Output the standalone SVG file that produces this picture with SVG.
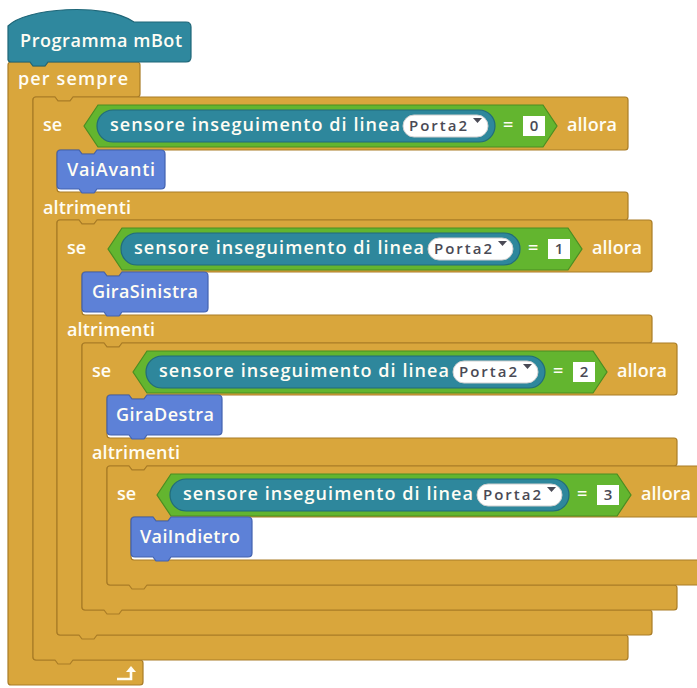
<svg xmlns="http://www.w3.org/2000/svg" width="697" height="688" viewBox="0 0 697 688">
<defs>
<style>
.ctl{fill:#D9A63C;stroke:#A97C26;stroke-width:1.2;stroke-linejoin:round}
.hat{fill:#2F889E;stroke:#1F6678;stroke-width:1.2}
.blu{fill:#5D81D7;stroke:#4262B0;stroke-width:1.2;stroke-linejoin:round}
.hex{fill:#63B52F;stroke:#4A8D22;stroke-width:1.2}
.sen{fill:#2E879C;stroke:#216B7C;stroke-width:1.2}
.pill{fill:#FFFFFF;stroke:#CFCFCF;stroke-width:1}
.box{fill:#FFFFFF}
.t{font-family:"Open Sans","DejaVu Sans",sans-serif;font-weight:600;font-size:18px;fill:#FFFDF4}
.d{font-family:"Open Sans","DejaVu Sans",sans-serif;font-weight:600;font-size:15px;fill:#4A4A55}
.tri{fill:#4A4A55}
</style>
</defs>
<rect width="697" height="688" fill="#FFFFFF"/>

<g id="forever">
<path class="ctl" d="M8,65 Q8,62 11,62 H30 L33,66 H45 L48,62 H137 Q140,62 140,65 V94 Q140,97 137,97 H73 L70,101 H58 L55,97 H36 Q33,97 33,100 V657 Q33,660 36,660 H140 Q143,660 143,663 V682 Q143,685 140,685 H11 Q8,685 8,682 Z"/>
<text class="t" x="18" y="85" textLength="110" lengthAdjust="spacing">per sempre</text>
<path d="M117,679 H131 V671" fill="none" stroke="#FFFDF4" stroke-width="2.6"/>
<polygon points="126,672 131,666 136,672" fill="#FFFDF4"/>
</g>

<g id="hat">
<path class="hat" d="M8,60 V26 C25,8 105,2 134,22 H186 Q191,22 191,27 V57 Q191,62 186,62 H48 L45,66 H33 L30,62 H11 Q8,62 8,59 Z"/>
<text class="t" x="20" y="47" textLength="162" lengthAdjust="spacing">Programma mBot</text>
</g>

<g id="se1">
<path class="ctl" d="M33,100 Q33,97 36,97 H55 L58,101 H70 L73,97 H625 Q628,97 628,100 V147 Q628,150 625,150 H97 L94,154 H82 L79,150 H60 Q57,150 57,153 V189 Q57,192 60,192 H625 Q628,192 628,195 V217 Q628,220 625,220 H97 L94,224 H82 L79,220 H60 Q57,220 57,223 V632 Q57,635 60,635 H625 Q628,635 628,638 V657 Q628,660 625,660 H73 L70,664 H58 L55,660 H36 Q33,660 33,657 Z"/>
<text class="t" x="43" y="131" textLength="19" lengthAdjust="spacing">se</text>
<polygon class="hex" points="84,126 98,105 543,105 557,126 543,147 98,147"/>
<rect class="sen" x="97" y="110" width="398" height="32" rx="16"/>
<text class="t" x="110" y="131" textLength="290" lengthAdjust="spacing">sensore inseguimento di linea</text>
<rect class="pill" x="403" y="115" width="85" height="22" rx="11"/>
<text class="d" x="409" y="131" textLength="58" lengthAdjust="spacing">Porta2</text>
<polygon class="tri" points="473,118 482,118 477.5,123"/>
<text class="t" x="503" y="131">=</text>
<rect class="box" x="523" y="116" width="22" height="20"/>
<text class="d" x="534" y="131" text-anchor="middle">0</text>
<text class="t" x="567" y="131" textLength="50" lengthAdjust="spacing">allora</text>
<text class="t" x="43" y="214" textLength="88" lengthAdjust="spacing">altrimenti</text>
</g>

<g id="vaiavanti">
<path class="blu" d="M57,154 Q57,150 61,150 H79 L82,154 H94 L97,150 H161 Q165,150 165,154 V185 Q165,189 161,189 H97 L94,193 H82 L79,189 H61 Q57,189 57,185 Z"/>
<text class="t" x="67" y="176" textLength="88" lengthAdjust="spacing">VaiAvanti</text>
</g>

<g id="se2">
<path class="ctl" d="M57,223 Q57,220 60,220 H79 L82,224 H94 L97,220 H649 Q652,220 652,223 V269 Q652,272 649,272 H122 L119,276 H107 L104,272 H85 Q82,272 82,275 V312 Q82,315 85,315 H649 Q652,315 652,318 V340 Q652,343 649,343 H122 L119,347 H107 L104,343 H85 Q82,343 82,346 V607 Q82,610 85,610 H649 Q652,610 652,613 V632 Q652,635 649,635 H97 L94,639 H82 L79,635 H60 Q57,635 57,632 Z"/>
<text class="t" x="67" y="254" textLength="19" lengthAdjust="spacing">se</text>
<polygon class="hex" points="108,249 122,228 568,228 582,249 568,270 122,270"/>
<rect class="sen" x="121" y="233" width="399" height="32" rx="16"/>
<text class="t" x="134" y="254" textLength="290" lengthAdjust="spacing">sensore inseguimento di linea</text>
<rect class="pill" x="428" y="238" width="85" height="22" rx="11"/>
<text class="d" x="434" y="254" textLength="58" lengthAdjust="spacing">Porta2</text>
<polygon class="tri" points="498,241 507,241 502.5,246"/>
<text class="t" x="528" y="254">=</text>
<rect class="box" x="548" y="239" width="22" height="20"/>
<text class="d" x="559" y="254" text-anchor="middle">1</text>
<text class="t" x="592" y="254" textLength="50" lengthAdjust="spacing">allora</text>
<text class="t" x="67" y="336" textLength="88" lengthAdjust="spacing">altrimenti</text>
</g>

<g id="girasinistra">
<path class="blu" d="M82,276 Q82,272 86,272 H104 L107,276 H119 L122,272 H204 Q208,272 208,276 V308 Q208,312 204,312 H122 L119,316 H107 L104,312 H86 Q82,312 82,308 Z"/>
<text class="t" x="92" y="298" textLength="106" lengthAdjust="spacing">GiraSinistra</text>
</g>

<g id="se3">
<path class="ctl" d="M82,346 Q82,343 85,343 H104 L107,347 H119 L122,343 H674 Q677,343 677,346 V392 Q677,395 674,395 H147 L144,399 H132 L129,395 H110 Q107,395 107,398 V435 Q107,438 110,438 H674 Q677,438 677,441 V463 Q677,466 674,466 H147 L144,470 H132 L129,466 H110 Q107,466 107,469 V582 Q107,585 110,585 H674 Q677,585 677,588 V607 Q677,610 674,610 H122 L119,614 H107 L104,610 H85 Q82,610 82,607 Z"/>
<text class="t" x="92" y="377" textLength="19" lengthAdjust="spacing">se</text>
<polygon class="hex" points="133,372 147,351 593,351 607,372 593,393 147,393"/>
<rect class="sen" x="146" y="356" width="399" height="32" rx="16"/>
<text class="t" x="159" y="377" textLength="290" lengthAdjust="spacing">sensore inseguimento di linea</text>
<rect class="pill" x="453" y="361" width="85" height="22" rx="11"/>
<text class="d" x="459" y="377" textLength="58" lengthAdjust="spacing">Porta2</text>
<polygon class="tri" points="523,364 532,364 527.5,369"/>
<text class="t" x="553" y="377">=</text>
<rect class="box" x="573" y="362" width="22" height="20"/>
<text class="d" x="584" y="377" text-anchor="middle">2</text>
<text class="t" x="617" y="377" textLength="50" lengthAdjust="spacing">allora</text>
<text class="t" x="92" y="459" textLength="88" lengthAdjust="spacing">altrimenti</text>
</g>

<g id="giradestra">
<path class="blu" d="M107,399 Q107,395 111,395 H129 L132,399 H144 L147,395 H218 Q222,395 222,399 V431 Q222,435 218,435 H147 L144,439 H132 L129,435 H111 Q107,435 107,431 Z"/>
<text class="t" x="116" y="421" textLength="98" lengthAdjust="spacing">GiraDestra</text>
</g>

<g id="se4">
<path class="ctl" d="M107,469 Q107,466 110,466 H129 L132,470 H144 L147,466 H700 Q703,466 703,469 V514 Q703,517 700,517 H171 L168,521 H156 L153,517 H134 Q131,517 131,520 V557 Q131,560 134,560 H700 Q703,560 703,563 V582 Q703,585 700,585 H147 L144,589 H132 L129,585 H110 Q107,585 107,582 Z"/>
<text class="t" x="117" y="500" textLength="19" lengthAdjust="spacing">se</text>
<polygon class="hex" points="157,495 171,474 617,474 631,495 617,516 171,516"/>
<rect class="sen" x="170" y="479" width="399" height="32" rx="16"/>
<text class="t" x="183" y="500" textLength="290" lengthAdjust="spacing">sensore inseguimento di linea</text>
<rect class="pill" x="477" y="484" width="85" height="22" rx="11"/>
<text class="d" x="483" y="500" textLength="58" lengthAdjust="spacing">Porta2</text>
<polygon class="tri" points="547,487 556,487 551.5,492"/>
<text class="t" x="577" y="500">=</text>
<rect class="box" x="597" y="485" width="22" height="20"/>
<text class="d" x="608" y="500" text-anchor="middle">3</text>
<text class="t" x="641" y="500" textLength="50" lengthAdjust="spacing">allora</text>
</g>

<g id="vaiindietro">
<path class="blu" d="M131,521 Q131,517 135,517 H153 L156,521 H168 L171,517 H248 Q252,517 252,521 V553 Q252,557 248,557 H171 L168,561 H156 L153,557 H135 Q131,557 131,553 Z"/>
<text class="t" x="140" y="543" textLength="100" lengthAdjust="spacing">VaiIndietro</text>
</g>

<g id="connectors"></g>
</svg>
